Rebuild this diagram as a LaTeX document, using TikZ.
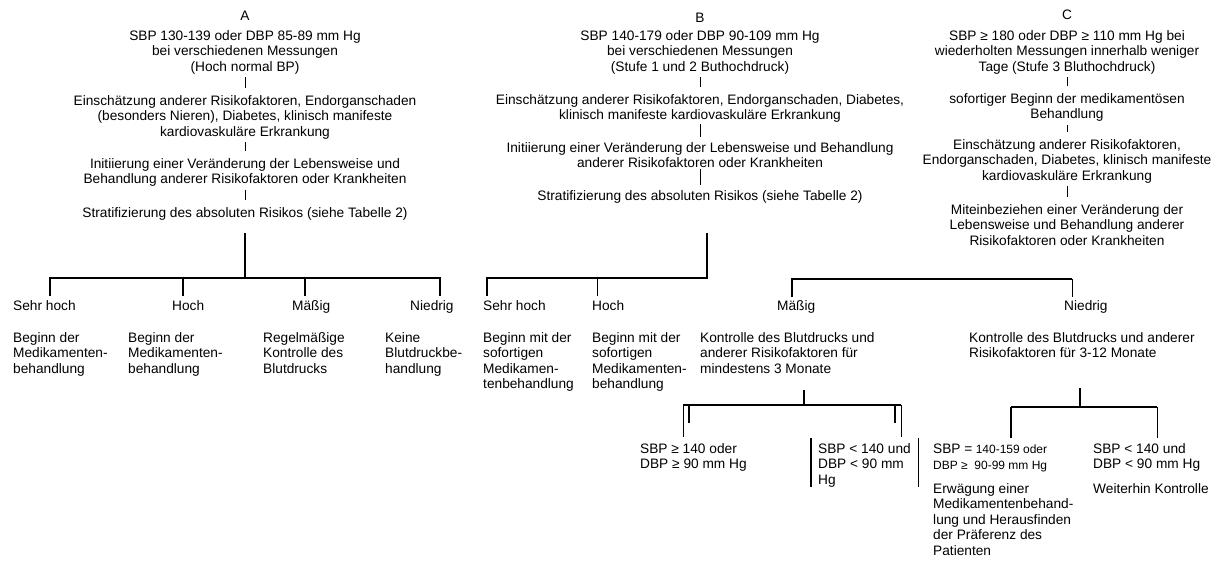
\documentclass[tikz,border=0pt]{standalone}
\usepackage{fontspec}
\setmainfont{Liberation Sans}
\begin{document}
\begin{tikzpicture}[x=1pt,y=-1pt,
  txt/.style={inner sep=0pt, font=\fontsize{13.7}{15.5}\selectfont, align=center, anchor=north},
  lt/.style={inner sep=0pt, font=\fontsize{13.7}{15.5}\selectfont, align=left, anchor=north west},
  conn/.style={line width=0.9pt},
  vline/.style={line width=0.9pt, shorten <=3pt, shorten >=7pt},
  barline/.style={line width=2.4pt}]
\useasboundingbox (0,0) rectangle (1217,563);

% ---------- Column A ----------
\node[txt] (A0) at (245,11) {A};
\node[txt] (A1) at (245,30) {SBP 130-139 oder DBP 85-89 mm Hg\\bei verschiedenen Messungen\\(Hoch normal BP)};
\node[txt] (A2) at (245,95) {Einschätzung anderer Risikofaktoren, Endorganschaden\\(besonders Nieren), Diabetes, klinisch manifeste\\kardiovaskuläre Erkrankung};
\node[txt] (A3) at (245,158) {Initiierung einer Veränderung der Lebensweise und\\Behandlung anderer Risikofaktoren oder Krankheiten};
\node[txt] (A4) at (245,207) {Stratifizierung des absoluten Risikos (siehe Tabelle 2)};
\draw[vline] (A1) -- (A2);
\draw[vline] (A2) -- (A3);
\draw[vline] (A3) -- (A4);

% ---------- Column B ----------
\node[txt] (B0) at (700,13) {B};
\node[txt] (B1) at (700,30) {SBP 140-179 oder DBP 90-109 mm Hg\\bei verschiedenen Messungen\\(Stufe 1 und 2 Buthochdruck)};
\node[txt] (B2) at (700,94) {Einschätzung anderer Risikofaktoren, Endorganschaden, Diabetes,\\klinisch manifeste kardiovaskuläre Erkrankung};
\node[txt] (B3) at (700,142) {Initiierung einer Veränderung der Lebensweise und Behandlung\\anderer Risikofaktoren oder Krankheiten};
\node[txt] (B4) at (700,190) {Stratifizierung des absoluten Risikos (siehe Tabelle 2)};
\draw[vline] (B1) -- (B2);
\draw[line width=0.9pt, shorten <=1pt, shorten >=5pt] (B2) -- (B3);
\draw[line width=0.9pt, shorten <=1pt, shorten >=5pt] (B3) -- (B4);

% ---------- Column C ----------
\node[txt] (C0) at (1067,10) {C};
\node[txt] (C1) at (1067,30) {SBP ≥ 180 oder DBP ≥ 110 mm Hg bei\\wiederholten Messungen innerhalb weniger\\Tage (Stufe 3 Bluthochdruck)};
\node[txt] (C2) at (1067,93) {sofortiger Beginn der medikamentösen\\Behandlung};
\node[txt] (C3) at (1067,139) {Einschätzung anderer Risikofaktoren,\\Endorganschaden, Diabetes, klinisch manifeste\\kardiovaskuläre Erkrankung};
\node[txt] (C4) at (1067,204) {Miteinbeziehen einer Veränderung der\\Lebensweise und Behandlung anderer\\Risikofaktoren oder Krankheiten};
\draw[vline] (C1) -- (C2);
\draw[vline] (C2) -- (C3);
\draw[vline] (C3) -- (C4);

% ---------- Tree A ----------
\coordinate (Aj) at (245,278);
\coordinate (AL) at (50,278);
\coordinate (AH) at (183,278);
\coordinate (AM) at (305,278);
\coordinate (AR) at (440,278);
\node[lt] (sA) at (13,300) {Sehr hoch};
\node[lt] (hA) at (172,300) {Hoch};
\node[lt] (mA) at (292,300) {Mäßig};
\node[lt] (nA) at (410,300) {Niedrig};
\node[lt] (sAd) at (13,332) {Beginn der\\Medikamenten-\\behandlung};
\node[lt] (hAd) at (128,332) {Beginn der\\Medikamenten-\\behandlung};
\node[lt] (mAd) at (263,332) {Regelmäßige\\Kontrolle des\\Blutdrucks};
\node[lt] (nAd) at (385,332) {Keine\\Blutdruckbe-\\handlung};
\draw[barline, shorten <=13pt] (A4) -- (Aj);
\draw[barline, shorten <=4pt, shorten >=4pt] (sA.north -| AL) -- (AL) -- (AR) -- (nA.north -| AR);
\draw[barline, shorten >=4pt] (AH) -- (hA.north -| AH);
\draw[barline, shorten >=4pt] (AM) -- (mA.north -| AM);

% ---------- Tree B ----------
\coordinate (Bj) at (707,278);
\coordinate (BL) at (487,278);
\coordinate (BH) at (597,278);
\node[lt] (sB) at (483,300) {Sehr hoch};
\node[lt] (hB) at (592,300) {Hoch};
\node[lt] (sBd) at (483,332) {Beginn mit der\\sofortigen\\Medikamen-\\tenbehandlung};
\node[lt] (hBd) at (592,332) {Beginn mit der\\sofortigen\\Medikamenten-\\behandlung};
\draw[barline, shorten <=30pt, shorten >=4pt] (B4.south -| Bj) -- (Bj) -- (BL) -- (sB.north -| BL);
\draw[conn, shorten >=4pt] (BH) -- (hB.north -| BH);

% second bar (Mäßig / Niedrig)
\coordinate (ML) at (792,279);
\coordinate (MR) at (1072,279);
\node[lt] (mB) at (777,300) {Mäßig};
\node[lt] (nB) at (1064,300) {Niedrig};
\node[lt] (mBd) at (700,332) {Kontrolle des Blutdrucks und\\anderer Risikofaktoren für\\mindestens 3 Monate};
\node[lt] (nBd) at (969,332) {Kontrolle des Blutdrucks und anderer\\Risikofaktoren für 3-12 Monate};
\draw[barline, shorten <=3pt] (mB.north -| ML) -- (ML) -- (MR);
\draw[conn, shorten >=3pt] (MR) -- (nB.north -| MR);

% ---------- Subtree Mäßig ----------
\coordinate (Mj) at (804,405);
\coordinate (M2L) at (683,405);
\coordinate (M2R) at (901,405);
\coordinate (k1t) at (689,405);
\coordinate (k1b) at (689,423);
\coordinate (k2t) at (895,405);
\coordinate (k2b) at (895,423);
\node[lt] (m1) at (640,443) {SBP ≥ 140 oder\\DBP ≥ 90 mm Hg};
\node[lt, inner xsep=7pt] (m2) at (811,443) {SBP < 140 und\\DBP < 90 mm\\Hg};
\draw[barline, shorten <=17pt] (mBd.south -| Mj) -- (Mj);
\draw[barline] (M2L) -- (M2R);
\draw[conn, shorten >=6pt] (M2L) -- (m1.north -| M2L);
\draw[conn, shorten >=6pt] (M2R) -- (m2.north -| M2R);
\draw[barline] (k1t) -- (k1b);
\draw[barline] (k2t) -- (k2b);
\draw[barline] ([yshift=5pt]m2.north west) -- (m2.south west);
\draw[conn] ([yshift=5pt]m2.north east) -- (m2.south east);

% ---------- Subtree Niedrig ----------
\coordinate (Nj) at (1080,407);
\coordinate (N2L) at (1011,407);
\coordinate (N2R) at (1157,407);
\node[lt, font=\fontsize{12}{15.5}\selectfont] (n1) at (933,444) {{\fontsize{13.7}{15.5}\selectfont SBP =} 140-159 oder\\DBP ≥\ \ 90-99 mm Hg};
\node[lt] (n2) at (1093,443) {SBP < 140 und\\DBP < 90 mm Hg};
\node[lt] (n1d) at (933,483) {Erwägung einer\\Medikamentenbehand-\\lung und Herausfinden\\der Präferenz des\\Patienten};
\node[lt] (n2d) at (1093,483) {Weiterhin Kontrolle};
\draw[barline, shorten <=30pt] (nBd.south -| Nj) -- (Nj);
\draw[barline] (N2L) -- (N2R);
\draw[barline, shorten >=6pt] (N2L) -- (n1.north -| N2L);
\draw[conn, shorten >=5pt] (N2R) -- (n2.north -| N2R);
\end{tikzpicture}
\end{document}
